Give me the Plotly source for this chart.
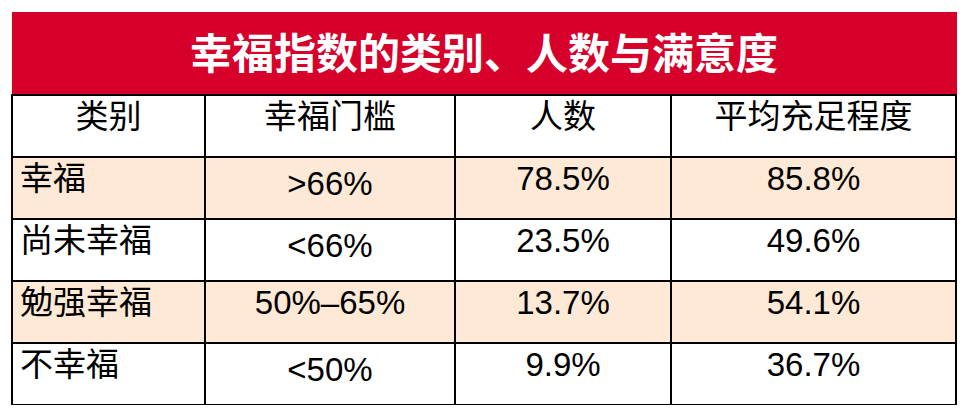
import plotly.graph_objects as go

title = "幸福指数的类别、人数与满意度"
columns = ["类别", "幸福门槛", "人数", "平均充足程度"]
categories = ["幸福", "尚未幸福", "勉强幸福", "不幸福"]
thresholds = [">66%", "<66%", "50%–65%", "<50%"]
people = ["78.5%", "23.5%", "13.7%", "9.9%"]
satisfaction = ["85.8%", "49.6%", "54.1%", "36.7%"]

W, H = 971, 417
OFF = 8  # page body margin
x0, x1 = 12 - OFF, 956 - OFF
peach, white = "#fde9d5", "#ffffff"
row_colors = [peach if i % 2 == 0 else white for i in range(len(categories))]
font = "Liberation Sans, Noto Sans CJK SC, sans-serif"

def ydom(top, bottom):
    return [1 - (bottom - OFF) / H, 1 - (top - OFF) / H]

fig = go.Figure()
fig.add_trace(go.Table(
    domain=dict(x=[x0 / W, x1 / W], y=ydom(12, 95)),
    header=dict(values=["<b>" + title + "</b>"], height=83, align="center",
                fill_color="#d6002a", line=dict(color="#d6002a", width=1),
                font=dict(family="Noto Sans CJK SC", size=42, color="white")),
    cells=dict(values=[[]], height=1),
))
fig.add_trace(go.Table(
    domain=dict(x=[x0 / W, x1 / W], y=ydom(95, 406)),
    columnwidth=[193, 250, 216, 285],
    header=dict(values=columns, height=62, align="center",
                fill_color="white", line=dict(color="black", width=1.5),
                font=dict(family=font, size=33, color="black")),
    cells=dict(values=[categories, thresholds, people, satisfaction], height=62,
               align=["left", "center", "center", "center"],
               fill_color=[row_colors] * 4, line=dict(color="black", width=1.5),
               font=dict(family=font, size=33, color="black")),
))
fig.update_layout(width=W, height=H, margin=dict(l=0, r=0, t=0, b=0),
                  paper_bgcolor="white")
fig.write_html("out.html")
